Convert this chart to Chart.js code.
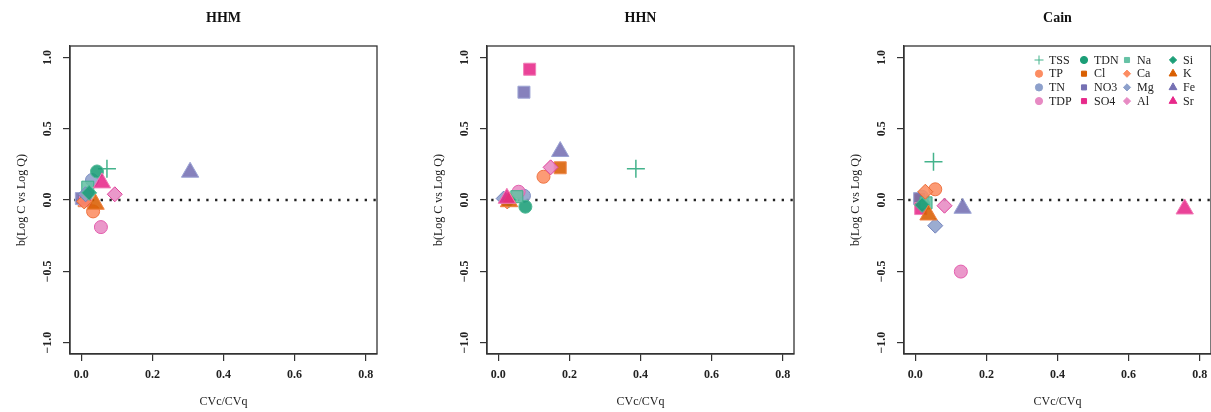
<!DOCTYPE html>
<html>
<head>
<meta charset="utf-8">
<title>C-Q slopes</title>
<script src="https://cdn.jsdelivr.net/npm/chart.js@4.4.1/dist/chart.umd.min.js"></script>
<style>
  html, body { margin: 0; padding: 0; background: #fff; overflow: hidden; }
  body { position: relative; width: 1211px; height: 412px; }
  canvas { position: absolute; top: 0; }
</style>
</head>
<body>
<canvas id="hhm" style="left:0px" width="400" height="412"></canvas>
<canvas id="hhn" style="left:417px" width="400" height="412"></canvas>
<canvas id="cain" style="left:834px" width="400" height="412"></canvas>
<script>
// constituents, in plotting order
const species = ['TSS', 'TP', 'TN', 'TDP', 'TDN', 'Cl', 'NO3', 'SO4',
                 'Na', 'Ca', 'Mg', 'Al', 'Si', 'K', 'Fe', 'Sr'];

// CVc/CVq and b (slope of log C vs log Q) per site
const cvHHM = [0.072, 0.033, 0.030, 0.055, 0.044, 0.008, 0.000, 0.012,
               0.018, 0.008, 0.012, 0.094, 0.022, 0.040, 0.306, 0.058];
const bHHM  = [0.22, -0.08, 0.14, -0.19, 0.20, -0.005, 0.01, 0.00,
               0.09, -0.01, 0.04, 0.04, 0.05, -0.03, 0.195, 0.12];

const cvHHN = [0.387, 0.127, 0.072, 0.057, 0.076, 0.174, 0.072, 0.088,
               0.052, 0.025, 0.015, 0.147, 0.030, 0.030, 0.174, 0.024];
const bHHN  = [0.22, 0.163, 0.03, 0.058, -0.047, 0.226, 0.756, 0.917,
               0.023, -0.01, 0.01, 0.229, 0.00, -0.012, 0.34, 0.012];

const cvCain = [0.051, 0.056, 0.019, 0.128, 0.022, 0.015, 0.012, 0.015,
                0.030, 0.028, 0.056, 0.082, 0.019, 0.037, 0.133, 0.758];
const bCain  = [0.268, 0.075, 0.023, -0.502, -0.03, 0.00, 0.01, -0.06,
                -0.02, 0.058, -0.18, -0.04, -0.035, -0.105, -0.058, -0.063];

const xTicks = [0, 0.2, 0.4, 0.6, 0.8];
const yTicks = [-1, -0.5, 0, 0.5, 1];
const zeroLineX = [-0.02, 0.832];

// marker look per constituent
const shapes = ['cross', 'circle', 'circle', 'circle', 'circle', 'rect', 'rect', 'rect',
                'rect', 'rectRot', 'rectRot', 'rectRot', 'rectRot', 'triangle', 'triangle', 'triangle'];
const fills = ['#44b38c', '#fc8d62', '#8da0cb', '#e78ac3', '#1b9e77', '#d95f02', '#7570b3', '#e7298a',
               '#66c2a5', '#fc8d62', '#8da0cb', '#e78ac3', '#1b9e77', '#d95f02', '#7570b3', '#e7298a'];
const edges = ['#44b38c', '#ee7442', '#7f8fc4', '#e35fae', '#4fb894', '#ee8a4e', '#a0a8d6', '#f080b8',
               '#3fae8a', '#e96a30', '#7382bd', '#e0409a', '#55bc98', '#f08040', '#9aa3d4', '#f07ab5'];
const radius = { cross: 9, circle: 6.5, rect: 8.5, rectRot: 7.5, triangle: 10 };

const SERIF = '"Liberation Serif", "Times New Roman", serif';
Chart.defaults.font.family = SERIF;
Chart.defaults.color = '#222';

function alpha(hex, a) {
  const n = parseInt(hex.slice(1), 16);
  return `rgba(${n >> 16}, ${(n >> 8) & 255}, ${n & 255}, ${a})`;
}

function fmt(v) {
  return v.toFixed(1).replace('-', '\u2212');
}

// box around the plot region plus upright-reading y tick labels
const frame = {
  id: 'frame',
  afterDraw(chart) {
    const { ctx, chartArea: a, scales: { y } } = chart;
    ctx.save();
    ctx.strokeStyle = '#333';
    ctx.lineWidth = 1.3;
    ctx.strokeRect(a.left, a.top, a.right - a.left, a.bottom - a.top);
    ctx.fillStyle = '#222';
    ctx.font = 'bold 12px ' + SERIF;
    ctx.textAlign = 'center';
    ctx.textBaseline = 'middle';
    yTicks.forEach(v => {
      ctx.save();
      ctx.translate(a.left - 22, y.getPixelForValue(v));
      ctx.rotate(-Math.PI / 2);
      ctx.fillText(fmt(v), 0, 0);
      ctx.restore();
    });
    ctx.restore();
  }
};

// four-column key inside the last panel
const key = {
  id: 'key',
  afterDraw(chart) {
    const { ctx, chartArea: a } = chart;
    const colX = [135, 180, 223, 269];
    ctx.save();
    ctx.font = '12px ' + SERIF;
    ctx.textAlign = 'left';
    ctx.textBaseline = 'middle';
    species.forEach((name, i) => {
      const x = a.left + colX[Math.floor(i / 4)];
      const y = a.top + 14 + (i % 4) * 13.7;
      ctx.fillStyle = fills[i];
      ctx.strokeStyle = fills[i];
      Chart.helpers.drawPoint(ctx, {
        pointStyle: shapes[i],
        radius: shapes[i] === 'triangle' ? 4.5 : shapes[i] === 'cross' ? 4.5 : 3.6,
        borderWidth: shapes[i] === 'cross' ? 1.4 : 0.5,
        rotation: 0
      }, x, y);
      ctx.fillStyle = '#222';
      ctx.fillText(name, x + 10, y + 0.5);
    });
    ctx.restore();
  }
};

function makePanel(id, title, cv, b, extra) {
  const datasets = species.map((name, i) => ({
    type: 'scatter',
    label: name,
    data: [{ x: cv[i], y: b[i] }],
    pointStyle: shapes[i],
    pointRadius: radius[shapes[i]],
    pointHoverRadius: radius[shapes[i]],
    backgroundColor: alpha(fills[i], 0.88),
    borderColor: edges[i],
    borderWidth: shapes[i] === 'cross' ? 1.5 : 1,
    order: species.length - i
  }));
  datasets.push({
    type: 'line',
    label: 'zero',
    data: zeroLineX.map(x => ({ x, y: 0 })),
    borderColor: '#222',
    borderWidth: 2.3,
    borderDash: [2.3, 6.5],
    pointRadius: 0,
    order: 100
  });

  return new Chart(document.getElementById(id), {
    data: { datasets },
    plugins: [frame].concat(extra || []),
    options: {
      responsive: false,
      animation: false,
      layout: { padding: { left: 0, top: 0, right: 23, bottom: 0 } },
      plugins: {
        legend: { display: false },
        tooltip: { enabled: false },
        title: {
          display: true,
          text: title,
          fullSize: false,
          color: '#111',
          font: { size: 14, weight: 'bold' },
          padding: { top: 10, bottom: 19.2 }
        }
      },
      scales: {
        x: {
          type: 'linear',
          min: -0.032,
          max: 0.832,
          afterBuildTicks: s => { s.ticks = xTicks.map(v => ({ value: v })); },
          afterFit: s => { s.height = 58; },
          ticks: {
            padding: 7,
            font: { size: 12, weight: 'bold' },
            color: '#222',
            callback: v => fmt(v)
          },
          grid: { drawOnChartArea: false, drawTicks: true, tickLength: 7, color: '#333', lineWidth: 1.2 },
          border: { display: true, color: '#333', width: 1.3 },
          title: { display: true, text: 'CVc/CVq', font: { size: 12 }, padding: { top: 0, bottom: 2.8 } }
        },
        y: {
          type: 'linear',
          min: -1.08,
          max: 1.08,
          afterBuildTicks: s => { s.ticks = yTicks.map(v => ({ value: v })); },
          afterFit: s => { s.width = 70; },
          ticks: { display: false },
          grid: { drawOnChartArea: false, drawTicks: true, tickLength: 7, color: '#333', lineWidth: 1.2 },
          border: { display: true, color: '#333', width: 1.3 },
          title: { display: true, text: 'b(Log C vs Log Q)', font: { size: 12 }, padding: { top: 14.5, bottom: 0 } }
        }
      }
    }
  });
}

makePanel('hhm', 'HHM', cvHHM, bHHM);
makePanel('hhn', 'HHN', cvHHN, bHHN);
makePanel('cain', 'Cain', cvCain, bCain, [key]);
</script>
</body>
</html>
